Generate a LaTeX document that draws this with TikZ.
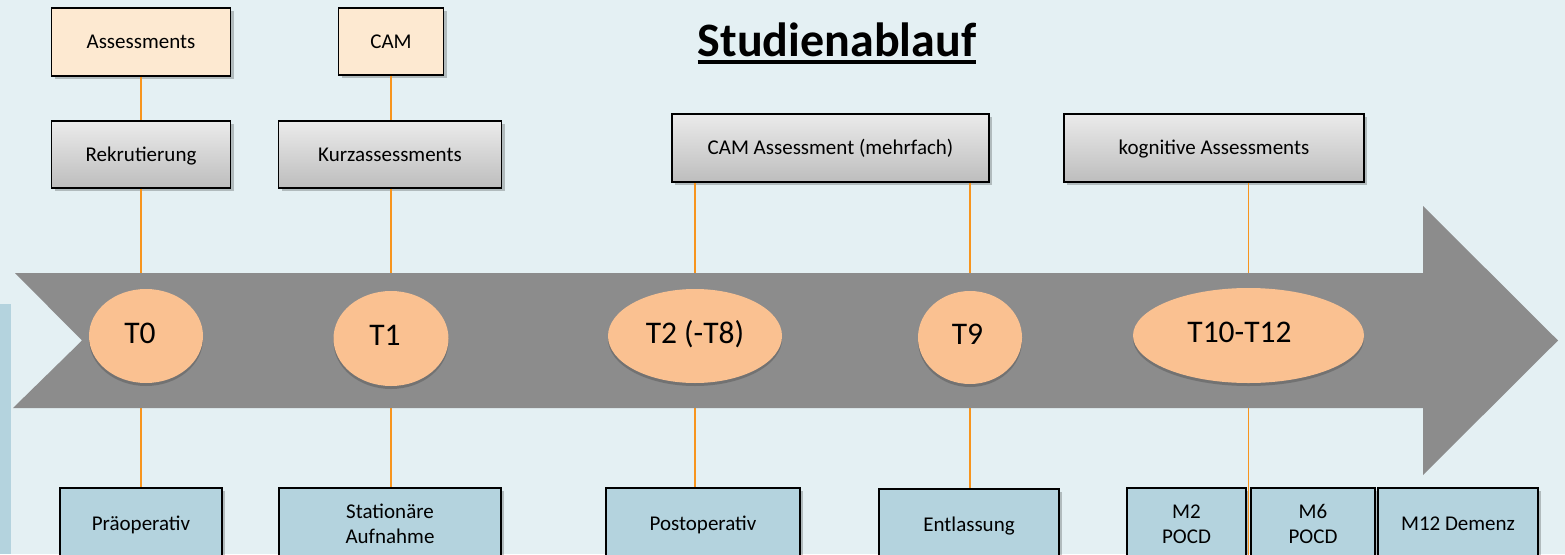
\documentclass[tikz,border=0pt]{standalone}
\usepackage{fontspec}
\setmainfont{Carlito}
\usetikzlibrary{shapes.geometric,shadows,calc}
\definecolor{bgcol}{HTML}{E4F0F3}
\definecolor{stripcol}{HTML}{B4D3DE}
\definecolor{arrowcol}{HTML}{8C8C8C}
\definecolor{ellcol}{HTML}{FAC191}
\definecolor{peachcol}{HTML}{FDE9D1}
\definecolor{graytop}{HTML}{EBEBEB}
\definecolor{graybot}{HTML}{BDBDBD}
\definecolor{bluebox}{HTML}{B4D3DE}
\definecolor{linecol}{HTML}{F7941D}
\newcommand\elltxt[2]{\raisebox{-7pt}[0pt][0pt]{\makebox[0pt]{#2\hspace*{#1}}}}
\tikzset{
  boxbase/.style={draw=black, line width=1.8pt, inner sep=0pt, align=center,
    font=\fontsize{21}{25}\selectfont,
    drop shadow={shadow xshift=3pt, shadow yshift=-3pt, opacity=0.22, fill=black}},
  oneline/.style={text height=17.5pt, text depth=4pt},
  peachbox/.style={boxbase, oneline, fill=peachcol},
  graybox/.style={boxbase, oneline, top color=graytop, bottom color=graybot},
  bluebx/.style={boxbase, fill=bluebox},
  ellnode/.style={ellipse, fill=ellcol, inner sep=0pt,
    font=\fontsize{31.5}{36}\selectfont,
    drop shadow={shadow xshift=0pt, shadow yshift=-3pt, opacity=0.18, fill=black}},
  conn/.style={draw=linecol, line width=1.6pt}
}
\begin{document}
\begin{tikzpicture}[x=1pt,y=-1pt]
\fill[bgcol] (0,0) rectangle (1565,554);
\fill[stripcol] (0,304) rectangle (11,554);
\useasboundingbox (0,0) rectangle (1565,554);

% top boxes
\node[peachbox, minimum width=179pt, minimum height=68pt] (ass) at (141,42) {Assessments};
\node[peachbox, minimum width=105pt, minimum height=67pt] (cam) at (391,41.5) {CAM};
\node[graybox, minimum width=179pt, minimum height=67pt] (rek) at (141,154.5) {Rekrutierung};
\node[graybox, minimum width=223pt, minimum height=67pt] (kurz) at (390,154.5) {Kurzassessments};
\node[graybox, minimum width=317pt, minimum height=68pt] (cama) at (830.5,148) {CAM Assessment (mehrfach)};
\node[graybox, minimum width=300pt, minimum height=68pt] (kog) at (1214,148) {kognitive Assessments};

% bottom boxes
\node[bluebx, oneline, minimum width=162pt, minimum height=72pt] (prae) at (141,524) {Präoperativ};
\node[bluebx, minimum width=222pt, minimum height=72pt] (stat) at (390,524) {Stationäre\\Aufnahme};
\node[bluebx, oneline, minimum width=194pt, minimum height=72pt] (post) at (703,524) {Postoperativ};
\node[bluebx, oneline, minimum width=180pt, minimum height=72pt] (entl) at (969,525) {Entlassung};
\node[bluebx, minimum width=119pt, minimum height=72pt] (m2) at (1186.5,524) {M2\\POCD};
\node[bluebx, minimum width=124pt, minimum height=72pt] (m6) at (1313,524) {M6\\POCD};
\node[bluebx, oneline, minimum width=160pt, minimum height=72pt] (m12) at (1458,524) {M12 Demenz};
\coordinate (gapend) at ($(m2.south east)!0.5!(m6.south west)$);

% ellipse centres
\coordinate (c0) at (146,336);
\coordinate (c1) at (391,338.5);
\coordinate (c2) at (695,336);
\coordinate (c9) at (970,337.5);
\coordinate (c10) at (1248.5,335.5);

% connectors (drawn before the arrow, so the arrow covers them)
\draw[conn] (ass.south) -- (rek.north);
\draw[conn] (rek.south) -- (prae.north);
\draw[conn] (cam.south) -- (kurz.north -| cam.south);
\draw[conn] (kurz.south -| cam.south) -- (stat.north -| cam.south);
\draw[conn] (cama.south -| c2) -- (post.north -| c2);
\draw[conn] (cama.south -| c9) -- (entl.north -| c9);
\draw[conn] (kog.south -| c10) -- (gapend -| c10);

% timeline arrow
\fill[arrowcol] (15,273) -- (1423,273) -- (1423,206) -- (1558,340.5) -- (1423,475)
  -- (1423,408) -- (13,408) -- (82,340.5) -- cycle;

% ellipses
\node[ellnode, minimum width=114pt, minimum height=94pt] (t0) at (c0) {\elltxt{12pt}{T0}};
\node[ellnode, minimum width=115pt, minimum height=95pt] (t1) at (c1) {\elltxt{12pt}{T1}};
\node[ellnode, minimum width=174pt, minimum height=94pt] (t2) at (c2) {\elltxt{0pt}{T2 (-T8)}};
\node[ellnode, minimum width=104pt, minimum height=93pt] (t9) at (c9) {\elltxt{5pt}{T9}};
\node[ellnode, minimum width=231pt, minimum height=95pt] (t10) at (c10) {\elltxt{18pt}{T10-T12}};

% title
\node[inner sep=0pt, anchor=base, font=\fontsize{48}{56}\selectfont\bfseries] (title) at (837,56) {Studienablauf};
\draw[line width=3.5pt] ($(title.base west)+(0,6)$) -- ($(title.base east)+(0,6)$);
\end{tikzpicture}
\end{document}
